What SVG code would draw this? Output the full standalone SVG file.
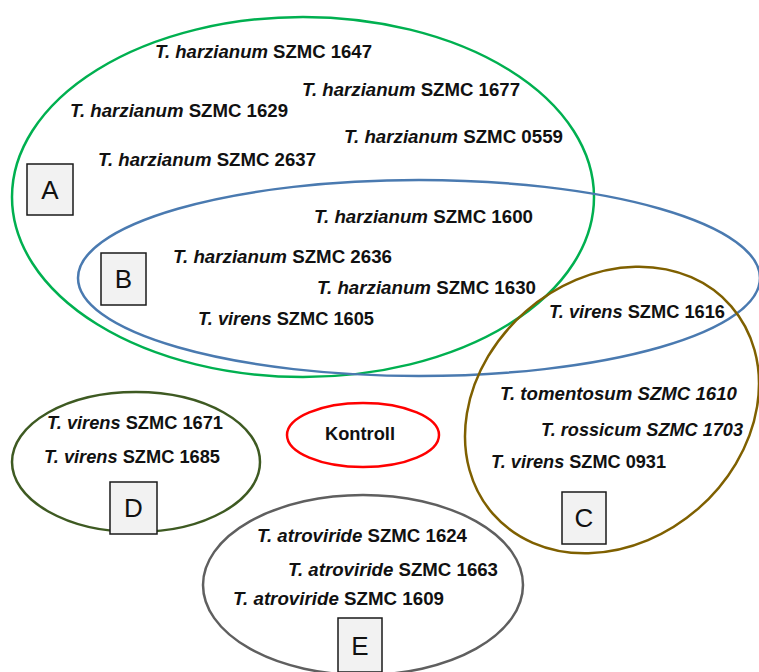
<svg xmlns="http://www.w3.org/2000/svg" width="759" height="672" viewBox="0 0 759 672">
<style>
.e{fill:none;stroke-width:2.5}
.t{font-family:"Liberation Sans",Arial,sans-serif;font-weight:bold;font-size:17.5px;fill:#111}
.i{font-style:italic}
.box{fill:#f2f2f2;stroke:#1a1a1a;stroke-width:1.5}
.lbl{font-family:"Liberation Sans",Arial,sans-serif;font-size:26px;fill:#111;text-anchor:middle}
</style>
<rect width="759" height="672" fill="#ffffff"/>
<g id="groupA">
<ellipse class="e" cx="303" cy="197" rx="291" ry="180" stroke="#00b050"/>
<rect class="box" x="27" y="164" width="46" height="51"/>
<text class="lbl" x="50" y="199">A</text>
<text class="t" x="155" y="58" textLength="217" lengthAdjust="spacingAndGlyphs"><tspan class="i">T. harzianum</tspan> SZMC 1647</text>
<text class="t" x="302" y="96" textLength="218" lengthAdjust="spacingAndGlyphs"><tspan class="i">T. harzianum</tspan> SZMC 1677</text>
<text class="t" x="70" y="117" textLength="218" lengthAdjust="spacingAndGlyphs"><tspan class="i">T. harzianum</tspan> SZMC 1629</text>
<text class="t" x="344" y="143" textLength="219" lengthAdjust="spacingAndGlyphs"><tspan class="i">T. harzianum</tspan> SZMC 0559</text>
<text class="t" x="98" y="166" textLength="218" lengthAdjust="spacingAndGlyphs"><tspan class="i">T. harzianum</tspan> SZMC 2637</text>
</g>
<g id="groupB">
<ellipse class="e" cx="419" cy="278" rx="341" ry="98" stroke="#4a7ab0"/>
<rect class="box" x="101" y="253" width="45" height="52"/>
<text class="lbl" x="123.5" y="288">B</text>
<text class="t" x="314" y="223" textLength="219" lengthAdjust="spacingAndGlyphs"><tspan class="i">T. harzianum</tspan> SZMC 1600</text>
<text class="t" x="173" y="263" textLength="219" lengthAdjust="spacingAndGlyphs"><tspan class="i">T. harzianum</tspan> SZMC 2636</text>
<text class="t" x="317" y="294" textLength="219" lengthAdjust="spacingAndGlyphs"><tspan class="i">T. harzianum</tspan> SZMC 1630</text>
<text class="t" x="198" y="325" textLength="176" lengthAdjust="spacingAndGlyphs"><tspan class="i">T. virens</tspan> SZMC 1605</text>
<text class="t" x="549" y="318" textLength="176" lengthAdjust="spacingAndGlyphs"><tspan class="i">T. virens</tspan> SZMC 1616</text>
</g>
<g id="groupC">
<ellipse class="e" cx="612" cy="410" rx="158" ry="131" transform="rotate(-41 612 410)" stroke="#7f6000"/>
<rect class="box" x="562" y="492" width="44" height="52"/>
<text class="lbl" x="584" y="527">C</text>
<text class="t i" x="500" y="400" textLength="237" lengthAdjust="spacingAndGlyphs">T. tomentosum SZMC 1610</text>
<text class="t i" x="541" y="436" textLength="202" lengthAdjust="spacingAndGlyphs">T. rossicum SZMC 1703</text>
<text class="t" x="491" y="468" textLength="175" lengthAdjust="spacingAndGlyphs"><tspan class="i">T. virens</tspan> SZMC 0931</text>
</g>
<g id="groupD">
<ellipse class="e" cx="136" cy="462" rx="124" ry="70" stroke="#3e5a22"/>
<rect class="box" x="110" y="482" width="47" height="52"/>
<text class="lbl" x="133.5" y="517">D</text>
<text class="t" x="47" y="429" textLength="176" lengthAdjust="spacingAndGlyphs"><tspan class="i">T. virens</tspan> SZMC 1671</text>
<text class="t" x="44" y="463" textLength="176" lengthAdjust="spacingAndGlyphs"><tspan class="i">T. virens</tspan> SZMC 1685</text>
</g>
<g id="kontroll">
<ellipse class="e" cx="363" cy="435" rx="76" ry="32" stroke="#ff0000"/>
<text class="t" x="325" y="440" textLength="70" lengthAdjust="spacingAndGlyphs">Kontroll</text>
</g>
<g id="groupE">
<ellipse class="e" cx="363" cy="585" rx="160" ry="90" stroke="#5f5f5f"/>
<rect class="box" x="338" y="618" width="44" height="54"/>
<text class="lbl" x="360" y="655">E</text>
<text class="t" x="257" y="542" textLength="210" lengthAdjust="spacingAndGlyphs"><tspan class="i">T. atroviride</tspan> SZMC 1624</text>
<text class="t" x="288" y="576" textLength="210" lengthAdjust="spacingAndGlyphs"><tspan class="i">T. atroviride</tspan> SZMC 1663</text>
<text class="t" x="233" y="605" textLength="211" lengthAdjust="spacingAndGlyphs"><tspan class="i">T. atroviride</tspan> SZMC 1609</text>
</g>
<g id="connectors"></g>
</svg>
